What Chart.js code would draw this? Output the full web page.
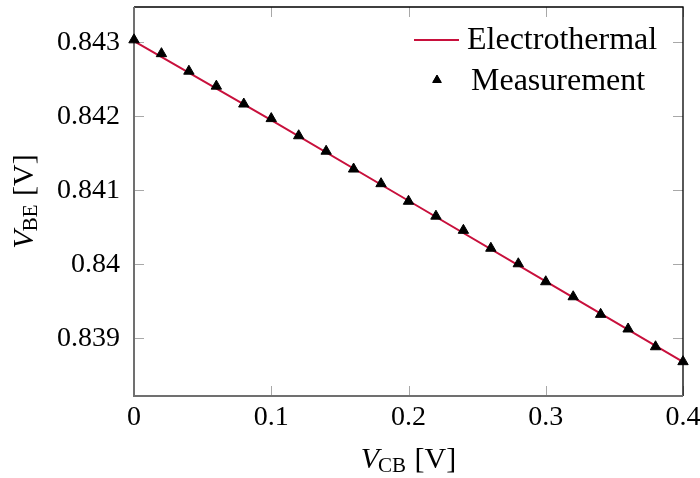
<!DOCTYPE html>
<html><head><meta charset="utf-8">
<script src="https://cdn.jsdelivr.net/npm/chart.js@4/dist/chart.umd.min.js"></script>
<style>html,body{margin:0;padding:0;background:#fff}</style>
</head><body>
<canvas id="c" width="700" height="478"></canvas>
<script>
// ---- data ----
const vcbMeasured = [0,0.02,0.04,0.06,0.08,0.10,0.12,0.14,0.16,0.18,0.20,0.22,0.24,0.26,0.28,0.30,0.32,0.34,0.36,0.38,0.40];
const vbeMeasured = [0.843036,0.842849,0.842612,0.842410,0.842168,0.841971,0.841739,0.841530,0.841289,0.841091,0.840853,0.840652,0.840460,0.840218,0.840008,0.839765,0.839562,0.839324,0.839126,0.838886,0.838684];
const vcbSim = [0,0.1,0.2,0.3,0.4];
const vbeSim = [0.84302,0.84195,0.84086,0.83977,0.83868];
const xTicks = [0,0.1,0.2,0.3,0.4];
const xTickLabels = ['0','0.1','0.2','0.3','0.4'];
const yTicks = [0.839,0.840,0.841,0.842,0.843];
const yTickLabels = ['0.839','0.84','0.841','0.842','0.843'];
const seriesLabels = ['Electrothermal','Measurement'];
const lineColor = '#c8103c';

const SERIF = "'Liberation Serif', 'DejaVu Serif', serif";
Chart.defaults.font.family = SERIF;

const framePlugin = {
  id: 'frame',
  beforeDatasetsDraw(chart) {
    const {ctx, chartArea: a, scales: {x, y}} = chart;
    ctx.save();
    ctx.strokeStyle = '#a8a8a8';
    ctx.lineWidth = 1;
    const L = 10;
    xTicks.forEach(v => {
      const px = Math.round(x.getPixelForValue(v)) + 0.5;
      ctx.beginPath();
      ctx.moveTo(px, a.bottom); ctx.lineTo(px, a.bottom - L);
      ctx.moveTo(px, a.top); ctx.lineTo(px, a.top + L);
      ctx.stroke();
    });
    yTicks.forEach(v => {
      const py = Math.round(y.getPixelForValue(v)) + 0.5;
      ctx.beginPath();
      ctx.moveTo(a.left, py); ctx.lineTo(a.left + L, py);
      ctx.moveTo(a.right, py); ctx.lineTo(a.right - L, py);
      ctx.stroke();
    });
    ctx.strokeStyle = '#000';
    ctx.lineWidth = 1.3;
    ctx.beginPath();
    ctx.moveTo(a.left, a.top); ctx.lineTo(a.right, a.top); ctx.lineTo(a.right, a.bottom);
    ctx.stroke();
    ctx.strokeStyle = '#707070';
    ctx.lineWidth = 2;
    ctx.beginPath();
    ctx.moveTo(a.left, a.top); ctx.lineTo(a.left, a.bottom); ctx.lineTo(a.right, a.bottom);
    ctx.stroke();
    ctx.restore();
  },
  afterDraw(chart) {
    const {ctx, chartArea: a} = chart;
    ctx.save();
    ctx.fillStyle = '#000';
    ctx.textBaseline = 'alphabetic';
    const drawTitle = (cx, base, sub) => {
      const fMain = '30px ' + SERIF, fIt = 'italic 30px ' + SERIF, fSub = '21px ' + SERIF;
      ctx.font = fIt; const wV = ctx.measureText('V').width;
      ctx.font = fSub; const wS = ctx.measureText(sub).width;
      ctx.font = fMain; const wB = ctx.measureText(' [V]').width;
      let xx = cx - (wV + wS + wB) / 2;
      ctx.font = fIt; ctx.fillText('V', xx, base); xx += wV - 1;
      ctx.font = fSub; ctx.fillText(sub, xx, base + 4); xx += wS + 1;
      ctx.font = fMain; ctx.fillText(' [V]', xx, base);
    };
    drawTitle((a.left + a.right) / 2, 468, 'CB');
    ctx.save();
    ctx.translate(33, (a.top + a.bottom) / 2);
    ctx.rotate(-Math.PI / 2);
    drawTitle(0, 0, 'BE');
    ctx.restore();
    // legend
    const ds = chart.data.datasets;
    ctx.font = '32px ' + SERIF;
    ctx.strokeStyle = ds[0].borderColor;
    ctx.lineWidth = 2;
    ctx.beginPath(); ctx.moveTo(414, 40); ctx.lineTo(459, 40); ctx.stroke();
    ctx.fillText(ds[0].label, 467, 49);
    ctx.strokeStyle = '#000';
    ctx.fillStyle = '#000';
    ctx.lineWidth = 1;
    Chart.helpers.drawPoint(ctx, {pointStyle: 'triangle', radius: 5, borderWidth: 1}, 437, 80);
    ctx.fill();
    ctx.fillText(ds[1].label, 471, 90);
    ctx.restore();
  }
};

new Chart(document.getElementById('c'), {
  type: 'scatter',
  data: {
    datasets: [
      {
        label: seriesLabels[0],
        data: vcbSim.map((v, i) => ({x: v, y: vbeSim[i]})),
        showLine: true,
        borderColor: lineColor,
        borderWidth: 2,
        pointRadius: 0,
        fill: false,
        clip: false,
        order: 2
      },
      {
        label: seriesLabels[1],
        data: vcbMeasured.map((v, i) => ({x: v, y: vbeMeasured[i]})),
        showLine: false,
        pointStyle: 'triangle',
        pointRadius: 6,
        pointBackgroundColor: '#000',
        pointBorderColor: '#000',
        pointBorderWidth: 1,
        clip: false,
        order: 1
      }
    ]
  },
  options: {
    responsive: false,
    animation: false,
    devicePixelRatio: 1,
    layout: {padding: {top: 7, right: 17, left: 0, bottom: 0}},
    plugins: {legend: {display: false}, tooltip: {enabled: false}},
    scales: {
      x: {
        type: 'linear', min: 0, max: 0.4,
        afterBuildTicks: s => { s.ticks = xTicks.map(v => ({value: v})); },
        afterFit: s => { s.height = 82; s.paddingLeft = 0; s.paddingRight = 0; },
        grid: {display: false}, border: {display: false},
        ticks: {
          autoSkip: false, maxRotation: 0, color: '#000', padding: -3,
          font: {family: SERIF, size: 28},
          callback: (v, i) => xTickLabels[i]
        }
      },
      y: {
        type: 'linear', min: 0.83822, max: 0.84348,
        afterBuildTicks: s => { s.ticks = yTicks.map(v => ({value: v})); },
        afterFit: s => { s.width = 134; s.paddingTop = 0; s.paddingBottom = 0; },
        grid: {display: false}, border: {display: false},
        ticks: {
          autoSkip: false, color: '#000', padding: 6,
          font: {family: SERIF, size: 28},
          callback: (v, i) => yTickLabels[i]
        }
      }
    }
  },
  plugins: [framePlugin]
});
</script>
</body></html>
